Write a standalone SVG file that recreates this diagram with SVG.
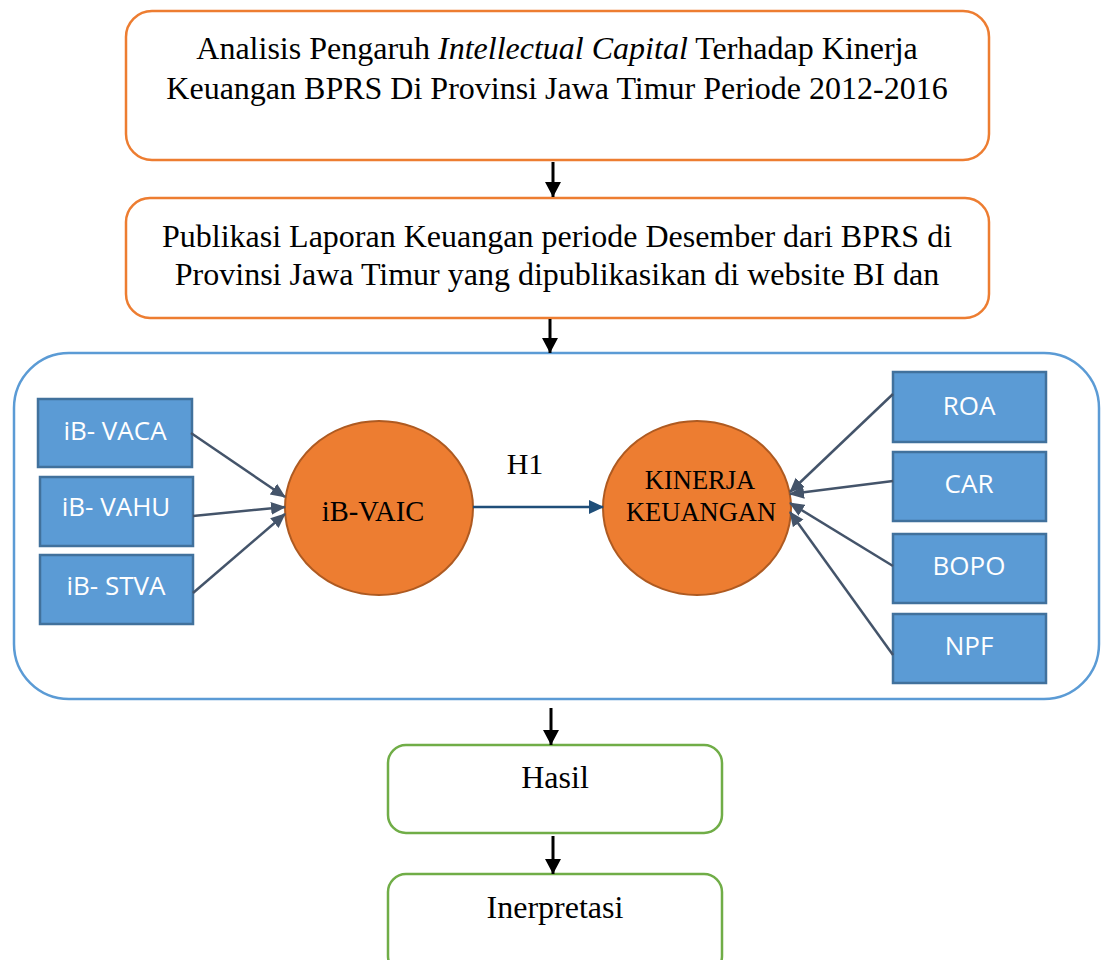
<svg xmlns="http://www.w3.org/2000/svg" width="1102" height="960" viewBox="0 0 1102 960">
<style>
.serif{font-family:"Liberation Serif","Times New Roman",serif;fill:#000}
.sans{font-family:"Open Sans","Liberation Sans",sans-serif;fill:#fff;font-size:26px}
.obox{fill:#fff;stroke:#ED7D31;stroke-width:2.5}
.gbox{fill:#fff;stroke:#70AD47;stroke-width:2.5}
.bbox{fill:#5B9BD5;stroke:#41719C;stroke-width:2.5}
.circ{fill:#ED7D31;stroke:#AE5A21;stroke-width:2}
.blk{stroke:#000;stroke-width:3;fill:none}
.ind{stroke:#44546A;stroke-width:2.5;fill:none}
</style>
<defs>
<marker id="ab" markerWidth="16" markerHeight="16" refX="15" refY="8" orient="auto" markerUnits="userSpaceOnUse" viewBox="0 0 16 16"><path d="M0,0 L15,8 L0,16 z" fill="#000"/></marker>
<marker id="ag" markerWidth="15" markerHeight="15" refX="14" refY="7.5" orient="auto" markerUnits="userSpaceOnUse" viewBox="0 0 15 15"><path d="M0,1 L15,7.5 L0,14 z" fill="#44546A"/></marker>
<marker id="an" markerWidth="15" markerHeight="15" refX="14" refY="7.5" orient="auto" markerUnits="userSpaceOnUse" viewBox="0 0 15 15"><path d="M0,0.5 L15,7.5 L0,14.5 z" fill="#1F4E79"/></marker>
</defs>
<g id="judul">
<rect class="obox" x="126" y="11" width="863" height="149" rx="26"/>
<text class="serif" font-size="32" text-anchor="middle" x="557" y="59">Analisis Pengaruh <tspan font-style="italic">Intellectual Capital</tspan> Terhadap Kinerja</text>
<text class="serif" font-size="32" text-anchor="middle" x="557" y="99">Keuangan BPRS Di Provinsi Jawa Timur Periode 2012-2016</text>
</g>
<g id="publikasi">
<rect class="obox" x="126" y="198" width="863" height="120" rx="24"/>
<text class="serif" font-size="32" text-anchor="middle" x="557" y="247">Publikasi Laporan Keuangan periode Desember dari BPRS di</text>
<text class="serif" font-size="32" text-anchor="middle" x="557" y="285">Provinsi Jawa Timur yang dipublikasikan di website BI dan</text>
</g>
<g id="model">
<rect x="14" y="353" width="1085" height="346" rx="55" fill="#fff" stroke="#5B9BD5" stroke-width="2.5"/>
</g>
<g id="vaca"><rect class="bbox" x="38" y="399" width="154" height="68"/><text class="sans" x="115" y="440" text-anchor="middle">iB- VACA</text></g>
<g id="vahu"><rect class="bbox" x="40" y="477" width="153" height="69"/><text class="sans" x="116" y="516" text-anchor="middle">iB- VAHU</text></g>
<g id="stva"><rect class="bbox" x="40" y="555" width="153" height="69"/><text class="sans" x="116" y="595" text-anchor="middle">iB- STVA</text></g>
<g id="vaic"><ellipse class="circ" cx="379" cy="508" rx="94" ry="87"/><text class="serif" font-size="28.5" text-anchor="middle" x="373" y="521">iB-VAIC</text></g>
<g id="h1"><text class="serif" font-size="30" text-anchor="middle" x="525" y="474">H1</text></g>
<g id="kinerja"><ellipse class="circ" cx="697" cy="508" rx="94" ry="87"/><text class="serif" font-size="26.5" text-anchor="middle" x="700" y="489">KINERJA</text><text class="serif" font-size="26.5" text-anchor="middle" x="701" y="521">KEUANGAN</text></g>
<g id="roa"><rect class="bbox" x="893" y="372" width="153" height="70"/><text class="sans" x="969" y="415" text-anchor="middle">ROA</text></g>
<g id="car"><rect class="bbox" x="893" y="452" width="153" height="69"/><text class="sans" x="969" y="493" text-anchor="middle">CAR</text></g>
<g id="bopo"><rect class="bbox" x="893" y="534" width="153" height="69"/><text class="sans" x="969" y="575" text-anchor="middle">BOPO</text></g>
<g id="npf"><rect class="bbox" x="893" y="614" width="153" height="69"/><text class="sans" x="969" y="655" text-anchor="middle">NPF</text></g>
<g id="hasil"><rect class="gbox" x="388" y="745" width="334" height="88" rx="18"/><text class="serif" font-size="32" text-anchor="middle" x="555" y="788">Hasil</text></g>
<g id="interpretasi"><rect class="gbox" x="388" y="874" width="334" height="100" rx="18"/><text class="serif" font-size="32" text-anchor="middle" x="555" y="918">Inerpretasi</text></g>
<g id="connectors">
<line class="blk" x1="553" y1="162" x2="553" y2="197" marker-end="url(#ab)"/>
<line class="blk" x1="550" y1="319" x2="550" y2="353" marker-end="url(#ab)"/>
<line class="blk" x1="551" y1="708" x2="551" y2="745" marker-end="url(#ab)"/>
<line class="blk" x1="553" y1="836" x2="553" y2="874" marker-end="url(#ab)"/>
<line x1="473" y1="507" x2="603" y2="507" stroke="#1F4E79" stroke-width="2.5" marker-end="url(#an)"/>
<line class="ind" x1="191" y1="433" x2="285" y2="497" marker-end="url(#ag)"/>
<line class="ind" x1="193" y1="516" x2="285" y2="507" marker-end="url(#ag)"/>
<line class="ind" x1="193" y1="593" x2="285" y2="514" marker-end="url(#ag)"/>
<line class="ind" x1="893" y1="394" x2="790" y2="492" marker-end="url(#ag)"/>
<line class="ind" x1="893" y1="481" x2="790" y2="494" marker-end="url(#ag)"/>
<line class="ind" x1="893" y1="566" x2="790" y2="503" marker-end="url(#ag)"/>
<line class="ind" x1="893" y1="655" x2="790" y2="512" marker-end="url(#ag)"/>
</g>
</svg>
